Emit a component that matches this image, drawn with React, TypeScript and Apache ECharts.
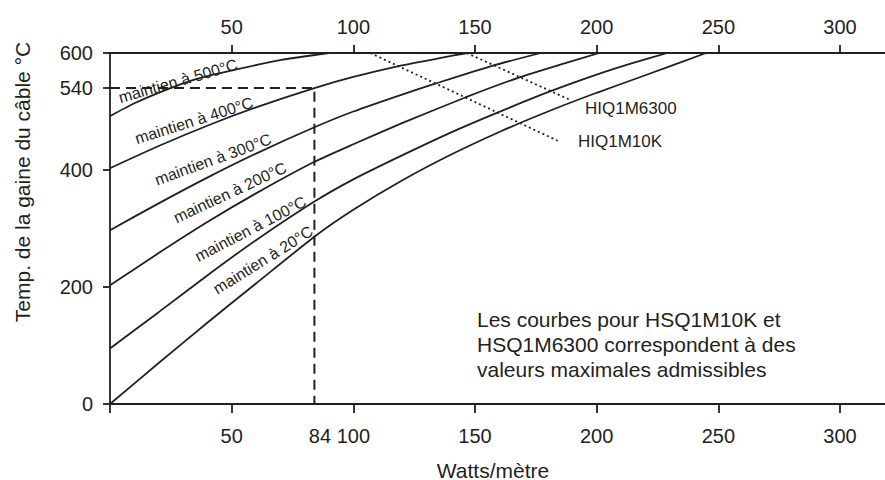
import React, { useEffect, useRef } from "react";
import * as echarts from "echarts";

const FONT = "Liberation Sans, Arial, Helvetica, sans-serif";
const INK = "#231f20";

const X_MAX = 318.5;
const Y_MAX = 600;

const yTickValues = [0, 200, 400, 540, 600];
const xBottomTicks = [0, 50, 100, 150, 200, 250, 300];
const xBottomLabels = [50, 84, 100, 150, 200, 250, 300];
const xTopTicks = [50, 100, 150, 200, 250, 300];

const curveNames = ["maintien à 500°C", "maintien à 400°C", "maintien à 300°C", "maintien à 200°C", "maintien à 100°C", "maintien à 20°C"];

const curve500 = [[0, 492], [10, 514], [23, 537], [35, 555], [51, 571], [70, 588], [90, 600]];
const curve400 = [[0, 403], [20, 441], [42, 479], [60, 507], [84, 540], [100, 559], [119, 578], [135, 591], [147, 600]];
const curve300 = [[0, 297], [20, 343], [40, 387], [60, 428], [84, 473], [100, 500], [120, 529], [134, 548], [157, 578], [177, 600]];
const curve200 = [[0, 203], [20, 258], [40, 311], [60, 360], [84, 414], [100, 444], [120, 480], [146, 524], [168, 558], [185, 580], [201, 600]];
const curve100 = [[0, 95], [20, 157], [42, 226], [60, 280], [84, 346], [100, 384], [120, 425], [140, 464], [158, 496], [180, 533], [200, 563], [215, 583], [229, 600]];
const curve20 = [[0, 0], [20, 70], [40, 139], [60, 206], [84, 286], [100, 332], [120, 382], [140, 426], [160, 465], [180, 500], [200, 532], [220, 562], [245, 600]];

const hiq10k = [[107, 600], [184, 450]];
const hiq6300 = [[146.6, 600], [189, 520]];
const guide84 = [[0, 540], [84, 540], [84, 0]];

// label placement for each curve: [cx, cy, angleDeg]
const curveLabelPos = [
  [178, 81, 16],
  [194, 120.5, 17.5],
  [213, 159.5, 20],
  [230, 192.5, 25],
  [250.5, 229, 27.5],
  [263, 260, 32],
];

const noteLines = [
  "Les courbes pour HSQ1M10K et",
  "HSQ1M6300 correspondent à des",
  "valeurs maximales admissibles",
];

export default function App() {
  const ref = useRef<HTMLDivElement>(null);
  useEffect(() => {
    if (!ref.current) return;
    const chart = echarts.init(ref.current, null, { renderer: "svg" });
    const curves = [curve500, curve400, curve300, curve200, curve100, curve20];
    const solidSeries = curves.map((d, i) => ({
      type: "line",
      name: curveNames[i],
      data: d,
      smooth: 0.2,
      symbol: "none",
      lineStyle: { color: INK, width: 1.8 },
      xAxisIndex: 0,
      yAxisIndex: 0,
    }));
    const graphics: any[] = [];
    curveLabelPos.forEach((p, i) => {
      graphics.push({
        type: "text",
        x: p[0],
        y: p[1],
        rotation: (p[2] * Math.PI) / 180,
        style: {
          text: curveNames[i],
          fill: INK,
          font: `16px ${FONT}`,
          align: "center",
          verticalAlign: "middle",
        },
      });
    });
    noteLines.forEach((t, i) => {
      graphics.push({
        type: "text",
        x: 477,
        y: 319 + i * 25,
        style: { text: t, fill: INK, font: `21px ${FONT}`, align: "left", verticalAlign: "middle" },
      });
    });
    graphics.push({
      type: "text",
      x: 585,
      y: 108,
      style: { text: "HIQ1M6300", fill: INK, font: `17px ${FONT}`, align: "left", verticalAlign: "middle" },
    });
    graphics.push({
      type: "text",
      x: 578,
      y: 141,
      style: { text: "HIQ1M10K", fill: INK, font: `17px ${FONT}`, align: "left", verticalAlign: "middle" },
    });
    graphics.push({
      type: "text",
      x: 22,
      y: 182,
      rotation: Math.PI / 2,
      style: { text: "Temp. de la gaine du câble °C", fill: INK, font: `21px ${FONT}`, align: "center", verticalAlign: "middle" },
    });
    graphics.push({
      type: "text",
      x: 493,
      y: 470,
      style: { text: "Watts/mètre", fill: INK, font: `21px ${FONT}`, align: "center", verticalAlign: "middle" },
    });

    const axisLine = { show: true, onZero: false, lineStyle: { color: INK, width: 1.8 } };
    chart.setOption({
      animation: false,
      backgroundColor: "#ffffff",
      grid: { left: 110, right: 0, top: 53, bottom: 76, containLabel: false },
      xAxis: [
        {
          type: "value",
          position: "bottom",
          min: 0,
          max: X_MAX,
          axisLine,
          splitLine: { show: false },
          axisTick: { show: true, customValues: xBottomTicks, length: 9, inside: false, lineStyle: { color: INK, width: 1.8 } },
          axisLabel: {
            customValues: xBottomLabels,
            margin: 22,
            fontSize: 20,
            fontFamily: FONT,
            color: INK,
            formatter: (v: number) => (v === 84 ? "{p|84}" : String(v)),
            rich: { p: { fontSize: 20, fontFamily: FONT, color: INK, padding: [0, 0, 0, 11] } },
          },
        },
        {
          type: "value",
          position: "top",
          min: 0,
          max: X_MAX,
          axisLine,
          splitLine: { show: false },
          axisTick: { show: true, customValues: xTopTicks, length: 8, lineStyle: { color: INK, width: 1.8 } },
          axisLabel: { customValues: xTopTicks, margin: 16, fontSize: 20, fontFamily: FONT, color: INK },
        },
      ],
      yAxis: [
        {
          type: "value",
          min: 0,
          max: Y_MAX,
          axisLine,
          splitLine: { show: false },
          axisTick: { show: true, customValues: yTickValues, length: 7, lineStyle: { color: INK, width: 1.8 } },
          axisLabel: { customValues: yTickValues, margin: 17, fontSize: 20, fontFamily: FONT, color: INK },
        },
      ],
      series: [
        ...solidSeries,
        {
          type: "line",
          name: "84 W/m",
          data: guide84,
          symbol: "none",
          lineStyle: { color: INK, width: 2, type: [10, 6] },
        },
        {
          type: "line",
          name: "HIQ1M10K",
          data: hiq10k,
          symbol: "none",
          lineStyle: { color: INK, width: 1.8, type: [2, 3] },
        },
        {
          type: "line",
          name: "HIQ1M6300",
          data: hiq6300,
          symbol: "none",
          lineStyle: { color: INK, width: 1.8, type: [2, 3] },
        },
      ],
      graphic: graphics,
    });
    return () => chart.dispose();
  }, []);
  return <div ref={ref} style={{ position: "fixed", left: 0, top: 0, width: 885, height: 480 }} />;
}
